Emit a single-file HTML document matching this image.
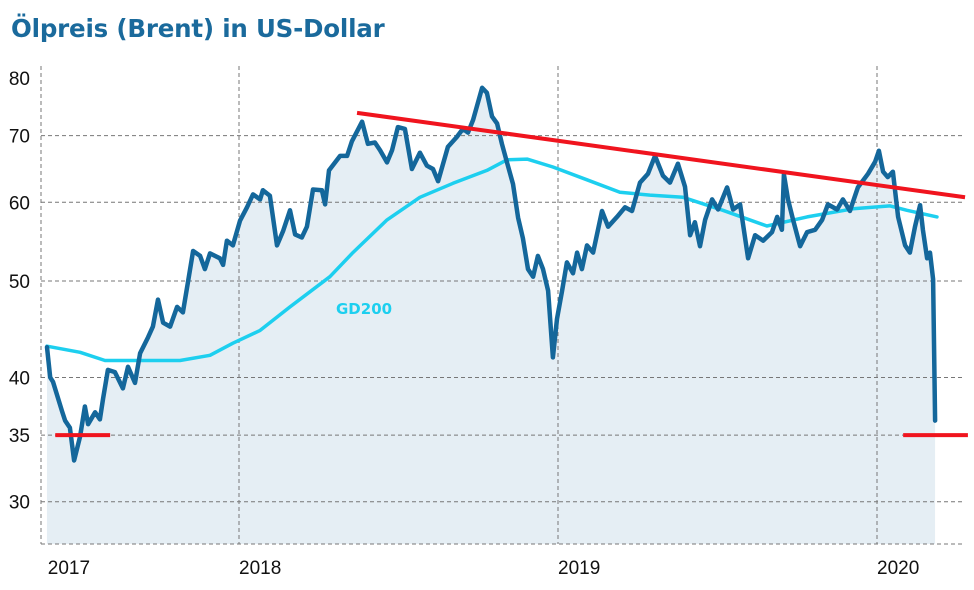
<!DOCTYPE html>
<html><head><meta charset="utf-8">
<style>
html,body{margin:0;padding:0;background:#fff;}
body{width:974px;height:590px;overflow:hidden;position:relative;font-family:"Liberation Sans",sans-serif;}
#title{position:absolute;left:11px;top:14px;font-size:24.5px;font-weight:bold;color:#1a6a9c;font-family:"DejaVu Sans","Liberation Sans",sans-serif;letter-spacing:-0.2px;}
svg{position:absolute;left:0;top:0;}
</style></head>
<body>
<div id="title">Ölpreis (Brent) in US-Dollar</div>
<svg id="chart" width="974" height="590"></svg>
<script>
const dates=[2017.398,2017.408,2017.417,2017.445,2017.455,2017.470,2017.483,2017.502,2017.517,2017.527,2017.549,2017.564,2017.574,2017.589,2017.611,2017.636,2017.652,2017.674,2017.690,2017.715,2017.730,2017.746,2017.762,2017.784,2017.806,2017.824,2017.840,2017.856,2017.878,2017.893,2017.909,2017.940,2017.950,2017.962,2017.981,2018.003,2018.025,2018.044,2018.066,2018.075,2018.097,2018.119,2018.138,2018.160,2018.176,2018.197,2018.213,2018.232,2018.260,2018.270,2018.282,2018.317,2018.339,2018.354,2018.386,2018.404,2018.426,2018.442,2018.464,2018.480,2018.498,2018.520,2018.542,2018.567,2018.589,2018.608,2018.624,2018.655,2018.683,2018.702,2018.718,2018.734,2018.762,2018.777,2018.793,2018.809,2018.824,2018.843,2018.859,2018.875,2018.890,2018.906,2018.922,2018.937,2018.953,2018.969,2018.984,2018.997,2019.013,2019.028,2019.047,2019.060,2019.075,2019.091,2019.110,2019.138,2019.157,2019.185,2019.210,2019.232,2019.257,2019.282,2019.304,2019.329,2019.351,2019.376,2019.398,2019.414,2019.429,2019.445,2019.461,2019.483,2019.502,2019.530,2019.549,2019.571,2019.596,2019.618,2019.643,2019.671,2019.687,2019.702,2019.708,2019.721,2019.737,2019.759,2019.781,2019.806,2019.828,2019.846,2019.875,2019.893,2019.915,2019.940,2019.972,2019.994,2020.006,2020.019,2020.034,2020.050,2020.066,2020.088,2020.103,2020.119,2020.135,2020.144,2020.157,2020.166,2020.176,2020.182];
const prices=[42.9,40.0,39.6,37.0,36.2,35.6,33.0,34.9,37.4,35.9,36.9,36.3,38.1,40.7,40.5,39.0,41.0,39.5,42.3,43.9,45.0,47.9,45.4,45.0,47.1,46.5,49.9,53.6,53.0,51.4,53.3,52.7,51.9,54.9,54.3,57.5,59.3,61.1,60.4,61.7,60.9,54.3,56.1,58.9,55.7,55.3,56.7,61.8,61.7,59.7,64.6,66.8,66.8,69.1,72.3,68.7,68.9,67.7,65.8,67.7,71.4,71.1,64.8,67.3,65.3,64.8,63.0,68.2,69.8,71.1,70.5,72.6,78.2,77.3,73.2,72.0,68.7,65.3,62.6,57.9,55.2,51.4,50.5,53.0,51.4,48.9,41.9,45.8,48.9,52.2,50.9,53.4,51.4,54.3,53.4,58.8,56.7,58.0,59.3,58.8,62.8,64.1,66.8,63.8,62.8,65.6,62.2,55.6,57.3,54.2,57.6,60.4,59.0,62.1,59.0,59.7,52.7,55.6,54.9,56.0,58.0,56.3,64.0,60.4,57.6,54.2,56.0,56.3,57.6,59.7,59.0,60.4,58.8,62.1,64.1,65.9,67.6,64.4,63.6,64.4,58.0,54.3,53.4,56.7,59.6,56.3,52.7,53.4,50.2,36.2];
const gdDates=[2017.398,2017.502,2017.580,2017.690,2017.815,2017.909,2017.981,2018.066,2018.160,2018.285,2018.357,2018.464,2018.567,2018.671,2018.777,2018.840,2018.903,2018.984,2019.091,2019.194,2019.288,2019.392,2019.517,2019.655,2019.781,2019.925,2020.041,2020.094,2020.188];
const gdValues=[43.0,42.4,41.6,41.6,41.6,42.1,43.3,44.6,47.1,50.5,53.4,57.6,60.7,62.7,64.6,66.2,66.3,65.1,63.2,61.4,61.0,60.7,58.9,56.8,58.0,59.1,59.5,58.9,58.0];
const resistDates=[2018.370,2020.276];
const resistValues=[73.8,60.7];
const supportDates=[[2017.424,2017.596],[2020.082,2020.285]];
const supportValue=35;
const yTicks=[80,70,60,50,40,35,30];
const gridY=[70,60,50,40,35,30];
const xTicks=[2018,2019,2020];
const xLabels=["2017","2018","2019","2020"];
const xLabelDates=[2017.41,2018,2019,2020];

const NS="http://www.w3.org/2000/svg";
const svg=document.getElementById('chart');
const X0=239,PX=319,Y0=78,LK=432,BOTTOM=544,LEFT=41,RIGHT=962,TOP=66;
function xs(t){return X0+(t-2018)*PX;}
function ys(p){return Y0+LK*Math.log(80/p);}
function mk(tag,attrs){const e=document.createElementNS(NS,tag);for(const k in attrs)e.setAttribute(k,attrs[k]);svg.appendChild(e);return e;}

let d='M'+xs(dates[0])+','+BOTTOM;
dates.forEach((t,i)=>{d+=' L'+xs(t).toFixed(1)+','+ys(prices[i]).toFixed(1);});
d+=' L'+xs(dates[dates.length-1])+','+BOTTOM+' Z';
const fill=mk('path',{d:d,fill:'#e5eef4'});



gridY.forEach(v=>{
  const l=mk('line',{x1:LEFT,x2:RIGHT,y1:ys(v),y2:ys(v),stroke:'#777','stroke-width':1,'stroke-dasharray':'4,3'});
  
  
});
const bl=mk('line',{x1:LEFT,x2:RIGHT,y1:BOTTOM,y2:BOTTOM,stroke:'#777','stroke-width':1,'stroke-dasharray':'4,3'});


const ll=mk('line',{x1:LEFT,x2:LEFT,y1:TOP,y2:BOTTOM,stroke:'#777','stroke-width':1,'stroke-dasharray':'4,3'});


xTicks.forEach(t=>{
  const l=mk('line',{x1:xs(t),x2:xs(t),y1:TOP,y2:BOTTOM,stroke:'#777','stroke-width':1,'stroke-dasharray':'4,3'});
  
  
});

yTicks.forEach(v=>{
  const t=mk('text',{x:30,y:ys(v)+7,'text-anchor':'end','font-size':19,fill:'#111','font-family':'Liberation Sans, sans-serif'});
  t.textContent=v;
  
  
});
xLabels.forEach((s,i)=>{
  const t=mk('text',{x:xs(xLabelDates[i])+(i==0?-3:0),y:574,'font-size':19,fill:'#111','font-family':'Liberation Sans, sans-serif'});
  t.textContent=s;
  
  
});

let g='';
gdDates.forEach((t,i)=>{g+=(i?' L':'M')+xs(t).toFixed(1)+','+ys(gdValues[i]).toFixed(1);});
const gl=mk('path',{d:g,fill:'none',stroke:'#1dcfef','stroke-width':3.5,'stroke-linejoin':'round','stroke-linecap':'round'});



let p='';
dates.forEach((t,i)=>{p+=(i?' L':'M')+xs(t).toFixed(1)+','+ys(prices[i]).toFixed(1);});
const pl=mk('path',{d:p,fill:'none',stroke:'#14679b','stroke-width':4.5,'stroke-linejoin':'round','stroke-linecap':'round'});



const rl=mk('line',{x1:xs(resistDates[0]),y1:ys(resistValues[0]),x2:xs(resistDates[1]),y2:ys(resistValues[1]),stroke:'#f0141e','stroke-width':4});


supportDates.forEach((r,i)=>{
  const s=mk('line',{x1:xs(r[0]),x2:xs(r[1]),y1:ys(supportValue),y2:ys(supportValue),stroke:'#f0141e','stroke-width':4});
  
  
});

const gt=mk('text',{x:336,y:314,'font-size':15,'font-weight':'bold',fill:'#1dcfef','font-family':'DejaVu Sans, sans-serif'});
gt.textContent='GD200';


</script>
</body></html>
